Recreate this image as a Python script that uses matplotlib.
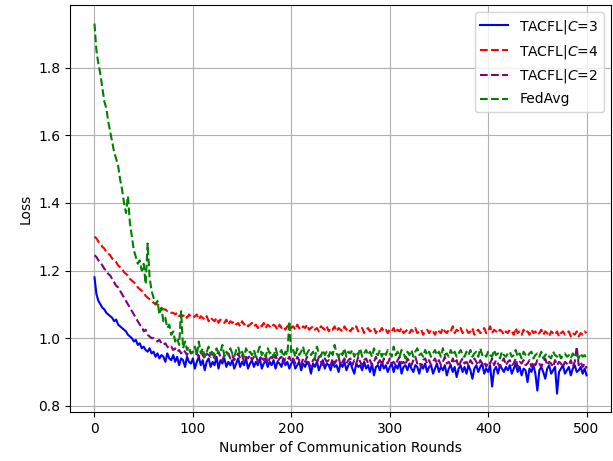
import numpy as np
import matplotlib
matplotlib.use("Agg")
import matplotlib.pyplot as plt

# communication rounds sampled every 2 rounds (0..500)
rounds = np.arange(0, 501, 2)

loss_c3 = [
    1.18, 1.13, 1.11, 1.10, 1.09, 1.085, 1.075, 1.07, 1.065, 1.06,
    1.05, 1.055, 1.04, 1.035, 1.03, 1.025, 1.02, 1.01, 1.005, 1.0,
    0.99, 0.995, 0.98, 0.985, 0.97, 0.975, 0.965, 0.96, 0.97, 0.955,
    0.96, 0.945, 0.955, 0.94, 0.95, 0.945, 0.93, 0.955, 0.94, 0.935,
    0.95, 0.93, 0.945, 0.92, 0.94, 0.935, 0.915, 0.945, 0.93, 0.925,
    0.94, 0.91, 0.93, 0.945, 0.92, 0.935, 0.905, 0.93, 0.94, 0.915,
    0.93, 0.92, 0.945, 0.91, 0.935, 0.925, 0.94, 0.915, 0.93, 0.92,
    0.935, 0.91, 0.925, 0.94, 0.915, 0.93, 0.92, 0.94, 0.91, 0.925,
    0.935, 0.915, 0.93, 0.92, 0.94, 0.91, 0.925, 0.935, 0.915, 0.93,
    0.92, 0.935, 0.91, 0.93, 0.925, 0.915, 0.94, 0.92, 0.93, 0.91,
    0.925, 0.935, 0.91, 0.92, 0.93, 0.905, 0.925, 0.915, 0.93, 0.92,
    0.895, 0.925, 0.915, 0.93, 0.905, 0.92, 0.935, 0.91, 0.925, 0.92,
    0.905, 0.93, 0.915, 0.92, 0.90, 0.925, 0.915, 0.93, 0.905, 0.92,
    0.93, 0.91, 0.895, 0.925, 0.915, 0.92, 0.905, 0.93, 0.91, 0.92,
    0.90, 0.925, 0.89, 0.915, 0.92, 0.905, 0.93, 0.91, 0.92, 0.90,
    0.915, 0.925, 0.90, 0.92, 0.91, 0.93, 0.895, 0.915, 0.92, 0.905,
    0.925, 0.91, 0.90, 0.92, 0.915, 0.895, 0.92, 0.91, 0.925, 0.90,
    0.915, 0.92, 0.895, 0.91, 0.925, 0.90, 0.915, 0.905, 0.92, 0.89,
    0.91, 0.92, 0.90, 0.915, 0.885, 0.91, 0.92, 0.90, 0.915, 0.895,
    0.92, 0.905, 0.88, 0.91, 0.92, 0.90, 0.915, 0.925, 0.895, 0.91,
    0.90, 0.92, 0.857, 0.905, 0.915, 0.895, 0.92, 0.91, 0.90, 0.915,
    0.905, 0.92, 0.895, 0.91, 0.925, 0.90, 0.915, 0.89, 0.91, 0.905,
    0.87, 0.91, 0.90, 0.92, 0.895, 0.845, 0.905, 0.915, 0.90, 0.88,
    0.91, 0.92, 0.895, 0.905, 0.915, 0.836, 0.90, 0.91, 0.92, 0.895,
    0.905, 0.915, 0.89, 0.91, 0.92, 0.90, 0.905, 0.915, 0.895, 0.91,
    0.89,
]

loss_c4 = [
    1.30, 1.295, 1.285, 1.28, 1.27, 1.265, 1.255, 1.25, 1.245, 1.235,
    1.23, 1.225, 1.215, 1.21, 1.205, 1.195, 1.19, 1.185, 1.175, 1.17,
    1.165, 1.16, 1.15, 1.145, 1.14, 1.135, 1.125, 1.12, 1.115, 1.11,
    1.105, 1.10, 1.10, 1.095, 1.09, 1.085, 1.085, 1.08, 1.08, 1.075,
    1.075, 1.07, 1.075, 1.065, 1.07, 1.065, 1.07, 1.06, 1.07, 1.065,
    1.06, 1.065, 1.07, 1.055, 1.065, 1.06, 1.055, 1.065, 1.05, 1.06,
    1.055, 1.05, 1.06, 1.045, 1.055, 1.05, 1.045, 1.055, 1.04, 1.05,
    1.045, 1.05, 1.04, 1.045, 1.035, 1.05, 1.04, 1.045, 1.035, 1.04,
    1.045, 1.035, 1.04, 1.03, 1.04, 1.035, 1.045, 1.03, 1.04, 1.035,
    1.03, 1.04, 1.035, 1.025, 1.04, 1.03, 1.035, 1.025, 1.035, 1.04,
    1.03, 1.035, 1.025, 1.04, 1.03, 1.025, 1.035, 1.03, 1.04, 1.025,
    1.03, 1.035, 1.025, 1.03, 1.02, 1.035, 1.03, 1.025, 1.035, 1.02,
    1.03, 1.025, 1.035, 1.02, 1.03, 1.025, 1.02, 1.035, 1.025, 1.03,
    1.02, 1.03, 1.025, 1.035, 1.02, 1.025, 1.03, 1.015, 1.025, 1.03,
    1.02, 1.025, 1.03, 1.015, 1.025, 1.02, 1.03, 1.02, 1.025, 1.015,
    1.025, 1.02, 1.03, 1.015, 1.025, 1.02, 1.03, 1.015, 1.02, 1.025,
    1.015, 1.025, 1.02, 1.03, 1.015, 1.02, 1.025, 1.01, 1.02, 1.025,
    1.015, 1.025, 1.02, 1.01, 1.025, 1.02, 1.015, 1.03, 1.02, 1.015,
    1.025, 1.02, 1.035, 1.015, 1.025, 1.02, 1.03, 1.015, 1.02, 1.025,
    1.015, 1.02, 1.03, 1.01, 1.02, 1.025, 1.015, 1.02, 1.03, 1.015,
    1.02, 1.035, 1.015, 1.025, 1.02, 1.015, 1.025, 1.02, 1.01, 1.02,
    1.015, 1.025, 1.02, 1.01, 1.03, 1.015, 1.02, 1.01, 1.025, 1.015,
    1.02, 1.01, 1.025, 1.015, 1.02, 1.01, 1.015, 1.025, 1.01, 1.02,
    1.015, 1.005, 1.02, 1.015, 1.01, 1.02, 1.005, 1.015, 1.02, 1.01,
    1.015, 1.02, 1.005, 1.015, 1.01, 1.02, 1.005, 1.015, 1.01, 1.02,
    1.015,
]

loss_c2 = [
    1.245, 1.24, 1.23, 1.225, 1.215, 1.205, 1.20, 1.19, 1.185, 1.175,
    1.165, 1.155, 1.15, 1.14, 1.13, 1.12, 1.11, 1.10, 1.09, 1.08,
    1.07, 1.06, 1.05, 1.04, 1.035, 1.02, 1.025, 1.01, 1.005, 1.0,
    1.0, 0.995, 0.99, 0.995, 0.985, 0.98, 0.985, 0.975, 0.97, 0.975,
    0.965, 0.97, 0.96, 0.965, 0.955, 0.965, 0.96, 0.95, 0.965, 0.955,
    0.96, 0.95, 0.955, 0.945, 0.96, 0.95, 0.94, 0.955, 0.95, 0.945,
    0.955, 0.94, 0.95, 0.96, 0.945, 0.935, 0.95, 0.945, 0.955, 0.94,
    0.95, 0.935, 0.945, 0.955, 0.94, 0.95, 0.93, 0.945, 0.94, 0.95,
    0.935, 0.945, 0.95, 0.93, 0.945, 0.94, 0.935, 0.95, 0.925, 0.94,
    0.945, 0.935, 0.95, 0.93, 0.94, 0.945, 0.925, 0.94, 0.935, 0.945,
    0.93, 0.94, 0.925, 0.945, 0.935, 0.92, 0.94, 0.93, 0.945, 0.925,
    0.915, 0.935, 0.94, 0.925, 0.945, 0.93, 0.92, 0.94, 0.93, 0.935,
    0.92, 0.94, 0.925, 0.935, 0.945, 0.92, 0.93, 0.94, 0.925, 0.935,
    0.94, 0.92, 0.935, 0.925, 0.945, 0.93, 0.92, 0.935, 0.94, 0.925,
    0.935, 0.92, 0.93, 0.945, 0.925, 0.935, 0.92, 0.94, 0.93, 0.925,
    0.94, 0.925, 0.93, 0.92, 0.935, 0.945, 0.925, 0.93, 0.92, 0.94,
    0.93, 0.92, 0.935, 0.945, 0.925, 0.93, 0.915, 0.935, 0.94, 0.925,
    0.935, 0.92, 0.93, 0.94, 0.925, 0.935, 0.92, 0.93, 0.945, 0.925,
    0.93, 0.92, 0.94, 0.925, 0.935, 0.915, 0.93, 0.94, 0.925, 0.93,
    0.92, 0.935, 0.925, 0.94, 0.93, 0.92, 0.935, 0.925, 0.93, 0.915,
    0.93, 0.925, 0.94, 0.92, 0.935, 0.925, 0.915, 0.93, 0.94, 0.92,
    0.93, 0.935, 0.92, 0.925, 0.94, 0.915, 0.93, 0.925, 0.935, 0.92,
    0.925, 0.935, 0.915, 0.93, 0.92, 0.935, 0.925, 0.915, 0.93, 0.94,
    0.92, 0.93, 0.925, 0.915, 0.935, 0.92, 0.93, 0.925, 0.915, 0.93,
    0.925, 0.92, 0.935, 0.915, 0.93, 0.975, 0.92, 0.93, 0.915, 0.925,
    0.91,
]

loss_fedavg = [
    1.93, 1.85, 1.81, 1.78, 1.74, 1.70, 1.68, 1.64, 1.61, 1.58,
    1.55, 1.53, 1.51, 1.47, 1.44, 1.40, 1.37, 1.42, 1.34, 1.30,
    1.26, 1.24, 1.22, 1.23, 1.20, 1.22, 1.16, 1.28, 1.18, 1.14,
    1.12, 1.10, 1.11, 1.07, 1.09, 1.05, 1.06, 1.03, 1.04, 1.01,
    1.02, 0.99, 1.00, 0.98, 1.08, 0.97, 0.99, 0.965, 0.975, 0.955,
    0.96, 0.975, 0.95, 0.99, 0.955, 0.97, 0.945, 0.96, 0.975, 0.95,
    0.965, 0.945, 0.97, 0.955, 0.96, 0.98, 0.945, 0.96, 0.95, 0.97,
    0.955, 0.945, 0.965, 0.975, 0.95, 0.96, 0.945, 0.97, 0.955, 0.96,
    0.95, 0.965, 0.945, 0.96, 0.975, 0.95, 0.96, 0.945, 0.97, 0.955,
    0.96, 0.945, 0.97, 0.95, 0.955, 0.965, 0.945, 0.96, 0.95, 1.05,
    0.955, 0.965, 0.945, 0.97, 0.95, 0.96, 0.975, 0.945, 0.955, 0.965,
    0.95, 0.96, 0.94, 0.975, 0.955, 0.945, 0.965, 0.95, 0.96, 0.945,
    0.965, 0.95, 0.98, 0.955, 0.945, 0.96, 0.95, 0.97, 0.945, 0.96,
    0.955, 0.965, 0.945, 0.96, 0.95, 0.97, 0.945, 0.955, 0.965, 0.95,
    0.96, 0.945, 0.97, 0.955, 0.95, 0.965, 0.945, 0.96, 0.95, 0.965,
    0.955, 0.945, 0.975, 0.95, 0.96, 0.945, 0.965, 0.955, 0.94, 0.96,
    0.95, 0.965, 0.945, 0.96, 0.97, 0.95, 0.955, 0.945, 0.965, 0.95,
    0.96, 0.945, 0.955, 0.965, 0.95, 0.96, 0.945, 0.97, 0.95, 0.955,
    0.945, 0.965, 0.95, 0.96, 0.945, 0.955, 0.965, 0.95, 0.945, 0.96,
    0.95, 0.965, 0.945, 0.955, 0.96, 0.945, 0.97, 0.95, 0.955, 0.945,
    0.96, 0.95, 0.945, 0.965, 0.95, 0.955, 0.94, 0.96, 0.95, 0.945,
    0.955, 0.96, 0.945, 0.95, 0.965, 0.945, 0.955, 0.94, 0.96, 0.95,
    0.945, 0.955, 0.96, 0.94, 0.95, 0.955, 0.945, 0.96, 0.94, 0.95,
    0.955, 0.945, 0.94, 0.96, 0.95, 0.945, 0.955, 0.94, 0.95, 0.955,
    0.945, 0.95, 0.94, 0.955, 0.945, 0.95, 0.94, 0.955, 0.945, 0.95,
    0.94,
]

fig = plt.figure(figsize=(6.13, 4.61), dpi=100)
ax = fig.add_axes([0.114, 0.106, 0.883, 0.883])

ax.plot(rounds, loss_c3, color="blue", linestyle="-", label="TACFL|$C$=3")
ax.plot(rounds, loss_c4, color="red", linestyle="--", label="TACFL|$C$=4")
ax.plot(rounds, loss_c2, color="purple", linestyle="--", label="TACFL|$C$=2")
ax.plot(rounds, loss_fedavg, color="green", linestyle="--", label="FedAvg")

ax.set_xlabel("Number of Communication Rounds")
ax.set_ylabel("Loss")
ax.set_xticks([0, 100, 200, 300, 400, 500])
ax.set_yticks([0.8, 1.0, 1.2, 1.4, 1.6, 1.8])
ax.grid(True)
ax.legend(loc="upper right")

fig.savefig("out.png", dpi=100)
plt.close(fig)
